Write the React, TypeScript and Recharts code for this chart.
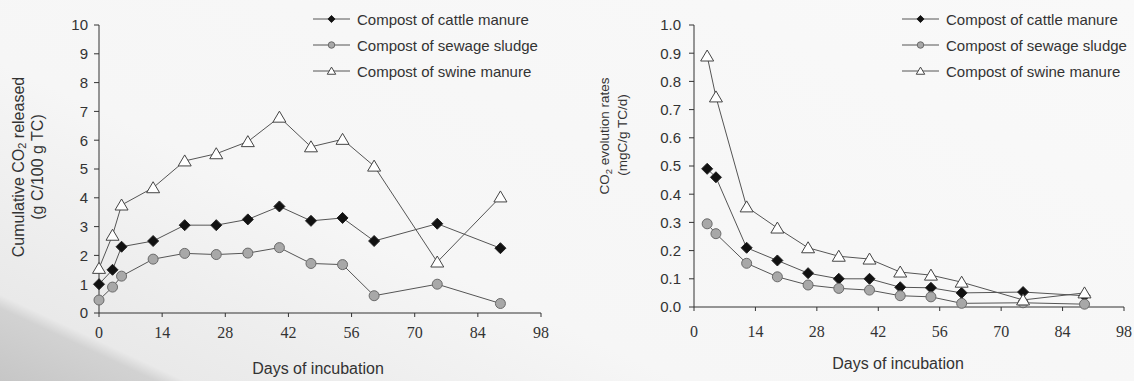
import React from "react";
import {
  LineChart,
  Line,
  XAxis,
  YAxis,
  Legend,
} from "recharts";

// days of incubation
const LEFT_DAYS = [0, 3, 5, 12, 19, 26, 33, 40, 47, 54, 61, 75, 89];
const RIGHT_DAYS = [3, 5, 12, 19, 26, 33, 40, 47, 54, 61, 75, 89];

// cumulative CO2 released (g C/100 g TC)
const CUM_CATTLE = [1.0, 1.5, 2.3, 2.5, 3.05, 3.05, 3.25, 3.7, 3.2, 3.3, 2.5, 3.1, 2.25];
const CUM_SLUDGE = [0.45, 0.9, 1.28, 1.87, 2.07, 2.03, 2.08, 2.27, 1.72, 1.68, 0.6, 1.0, 0.33];
const CUM_SWINE = [1.55, 2.7, 3.75, 4.35, 5.28, 5.53, 5.95, 6.8, 5.77, 6.03, 5.1, 1.77, 4.03];

// CO2 evolution rates (mgC/g TC/d)
const RATE_CATTLE = [0.49, 0.46, 0.21, 0.165, 0.12, 0.1, 0.1, 0.07, 0.068, 0.05, 0.053, 0.04];
const RATE_SLUDGE = [0.295, 0.26, 0.155, 0.107, 0.078, 0.066, 0.06, 0.04, 0.036, 0.013, 0.015, 0.01];
const RATE_SWINE = [0.89, 0.745, 0.355, 0.28, 0.21, 0.18, 0.17, 0.124, 0.113, 0.088, 0.025, 0.05];

const X_TICKS = [0, 14, 28, 42, 56, 70, 84, 98];
const LEFT_Y_TICKS = [0, 1, 2, 3, 4, 5, 6, 7, 8, 9, 10];
const RIGHT_Y_TICKS = [0, 0.1, 0.2, 0.3, 0.4, 0.5, 0.6, 0.7, 0.8, 0.9, 1.0];

const SERIES = [
  { key: "cattle", name: "Compost of cattle manure", shape: "diamond" },
  { key: "sludge", name: "Compost of sewage sludge", shape: "circle" },
  { key: "swine", name: "Compost of swine manure", shape: "triangle" },
];

const SANS = "'Liberation Sans', Arial, sans-serif";
const SERIF = "'Liberation Serif', 'Times New Roman', serif";
const INK = "#333";
const LINE = "#555";

const leftData = LEFT_DAYS.map((day, i) => ({
  day,
  cattle: CUM_CATTLE[i],
  sludge: CUM_SLUDGE[i],
  swine: CUM_SWINE[i],
}));

const rightData = RIGHT_DAYS.map((day, i) => ({
  day,
  cattle: RATE_CATTLE[i],
  sludge: RATE_SLUDGE[i],
  swine: RATE_SWINE[i],
}));

function Marker({ shape, cx, cy, s = 1 }: any) {
  if (shape === "diamond") {
    const r = 5.5 * s;
    return (
      <path
        d={`M${cx},${cy - r}L${cx + r},${cy}L${cx},${cy + r}L${cx - r},${cy}Z`}
        fill="#111"
        stroke="#222"
      />
    );
  }
  if (shape === "circle") {
    return <circle cx={cx} cy={cy} r={5 * s} fill="#a8a8a8" stroke="#6a6a6a" />;
  }
  const w = 6.5 * s;
  return (
    <path
      d={`M${cx},${cy - 6 * s}L${cx + w},${cy + 5 * s}L${cx - w},${cy + 5 * s}Z`}
      fill="#fff"
      stroke="#444"
    />
  );
}

function makeDot(shape: string) {
  return (props: any) => {
    if (props.cx == null || props.cy == null) return <g key={props.index} />;
    return (
      <g key={`${shape}-${props.index}`}>
        <Marker shape={shape} cx={props.cx} cy={props.cy} />
      </g>
    );
  };
}

function LegendBox() {
  return (
    <div style={{ fontFamily: SANS, fontSize: 15, color: INK }}>
      {SERIES.map((s) => (
        <div
          key={s.key}
          style={{ display: "flex", alignItems: "center", height: 26 }}
        >
          <svg width={38} height={14} style={{ display: "block" }}>
            <line x1={0} y1={7} x2={37} y2={7} stroke={LINE} />
            <Marker shape={s.shape} cx={18.5} cy={7} s={0.65} />
          </svg>
          <span style={{ marginLeft: 6, whiteSpace: "nowrap" }}>{s.name}</span>
        </div>
      ))}
    </div>
  );
}

function RotatedLabel({ x, y, size, children }: any) {
  return (
    <text
      x={x}
      y={y}
      transform={`rotate(-90, ${x}, ${y})`}
      textAnchor="middle"
      dominantBaseline="central"
      fontFamily={SANS}
      fontSize={size}
      fill={INK}
    >
      {children}
    </text>
  );
}

function Panel({
  data,
  width,
  left,
  yWidth,
  rightMargin,
  xHeight,
  yDomain,
  yTicks,
  yFormat,
  yTickMargin,
  xTickMargin,
  legendLeft,
  xLabel,
  yLabel,
}: any) {
  return (
    <div style={{ position: "absolute", left, top: 0 }}>
      <LineChart
        width={width}
        height={381}
        data={data}
        margin={{ top: 25, right: rightMargin, bottom: 0, left: 0 }}
      >
        <XAxis
          dataKey="day"
          type="number"
          domain={[0, 98]}
          ticks={X_TICKS}
          height={xHeight}
          tickSize={4}
          tickMargin={xTickMargin}
          stroke={INK}
          tick={{ fill: INK, fontFamily: SERIF, fontSize: 16 }}
          label={{ content: xLabel }}
        />
        <YAxis
          type="number"
          domain={yDomain}
          ticks={yTicks}
          width={yWidth}
          tickSize={5}
          tickMargin={yTickMargin}
          tickFormatter={yFormat}
          stroke={INK}
          tick={{ fill: INK, fontFamily: SANS, fontSize: 15 }}
          label={{ content: yLabel }}
        />
        <Legend
          layout="vertical"
          align="center"
          verticalAlign="middle"
          wrapperStyle={{ top: 6, left: legendLeft, width: 240 }}
          content={() => <LegendBox />}
        />
        {SERIES.map((s) => (
          <Line
            key={s.key}
            dataKey={s.key}
            name={s.name}
            type="linear"
            stroke={LINE}
            strokeWidth={1}
            dot={makeDot(s.shape)}
            activeDot={false}
            isAnimationActive={false}
          />
        ))}
      </LineChart>
    </div>
  );
}

export default function App() {
  return (
    <div
      style={{
        position: "absolute",
        left: 0,
        top: 0,
        width: 1134,
        height: 381,
        overflow: "hidden",
        background:
          "linear-gradient(205deg, #f9f9f9 0%, #f6f6f6 65%, #e9e9e9 90.5%, #d2d2d2 92%, #c6c6c6 100%)",
      }}
    >
      <Panel
        data={leftData}
        width={570}
        left={0}
        yWidth={99}
        rightMargin={29}
        xHeight={68}
        yDomain={[0, 10]}
        yTicks={LEFT_Y_TICKS}
        yFormat={(v: number) => String(v)}
        yTickMargin={6}
        xTickMargin={10}
        legendLeft={313}
        xLabel={() => (
          <text
            x={318}
            y={374}
            textAnchor="middle"
            fontFamily={SANS}
            fontSize={16}
            fill={INK}
          >
            Days of incubation
          </text>
        )}
        yLabel={() => (
          <g>
            <RotatedLabel x={18} y={167} size={16}>
              Cumulative CO
              <tspan fontSize={11} dy={4}>2</tspan>
              <tspan dy={-4}> released</tspan>
            </RotatedLabel>
            <RotatedLabel x={37} y={167} size={16}>
              (g C/100 g TC)
            </RotatedLabel>
          </g>
        )}
      />
      <Panel
        data={rightData}
        width={564}
        left={570}
        yWidth={124}
        rightMargin={10}
        xHeight={74}
        yDomain={[0, 1]}
        yTicks={RIGHT_Y_TICKS}
        yFormat={(v: number) => v.toFixed(1)}
        yTickMargin={8}
        xTickMargin={15}
        legendLeft={332}
        xLabel={() => (
          <text
            x={328}
            y={369}
            textAnchor="middle"
            fontFamily={SANS}
            fontSize={16}
            fill={INK}
          >
            Days of incubation
          </text>
        )}
        yLabel={() => (
          <g>
            <RotatedLabel x={34} y={136} size={13.5}>
              CO
              <tspan fontSize={9.5} dy={3.5}>2</tspan>
              <tspan dy={-3.5}> evolution rates</tspan>
            </RotatedLabel>
            <RotatedLabel x={52} y={135} size={13.5}>
              (mgC/g TC/d)
            </RotatedLabel>
          </g>
        )}
      />
    </div>
  );
}
